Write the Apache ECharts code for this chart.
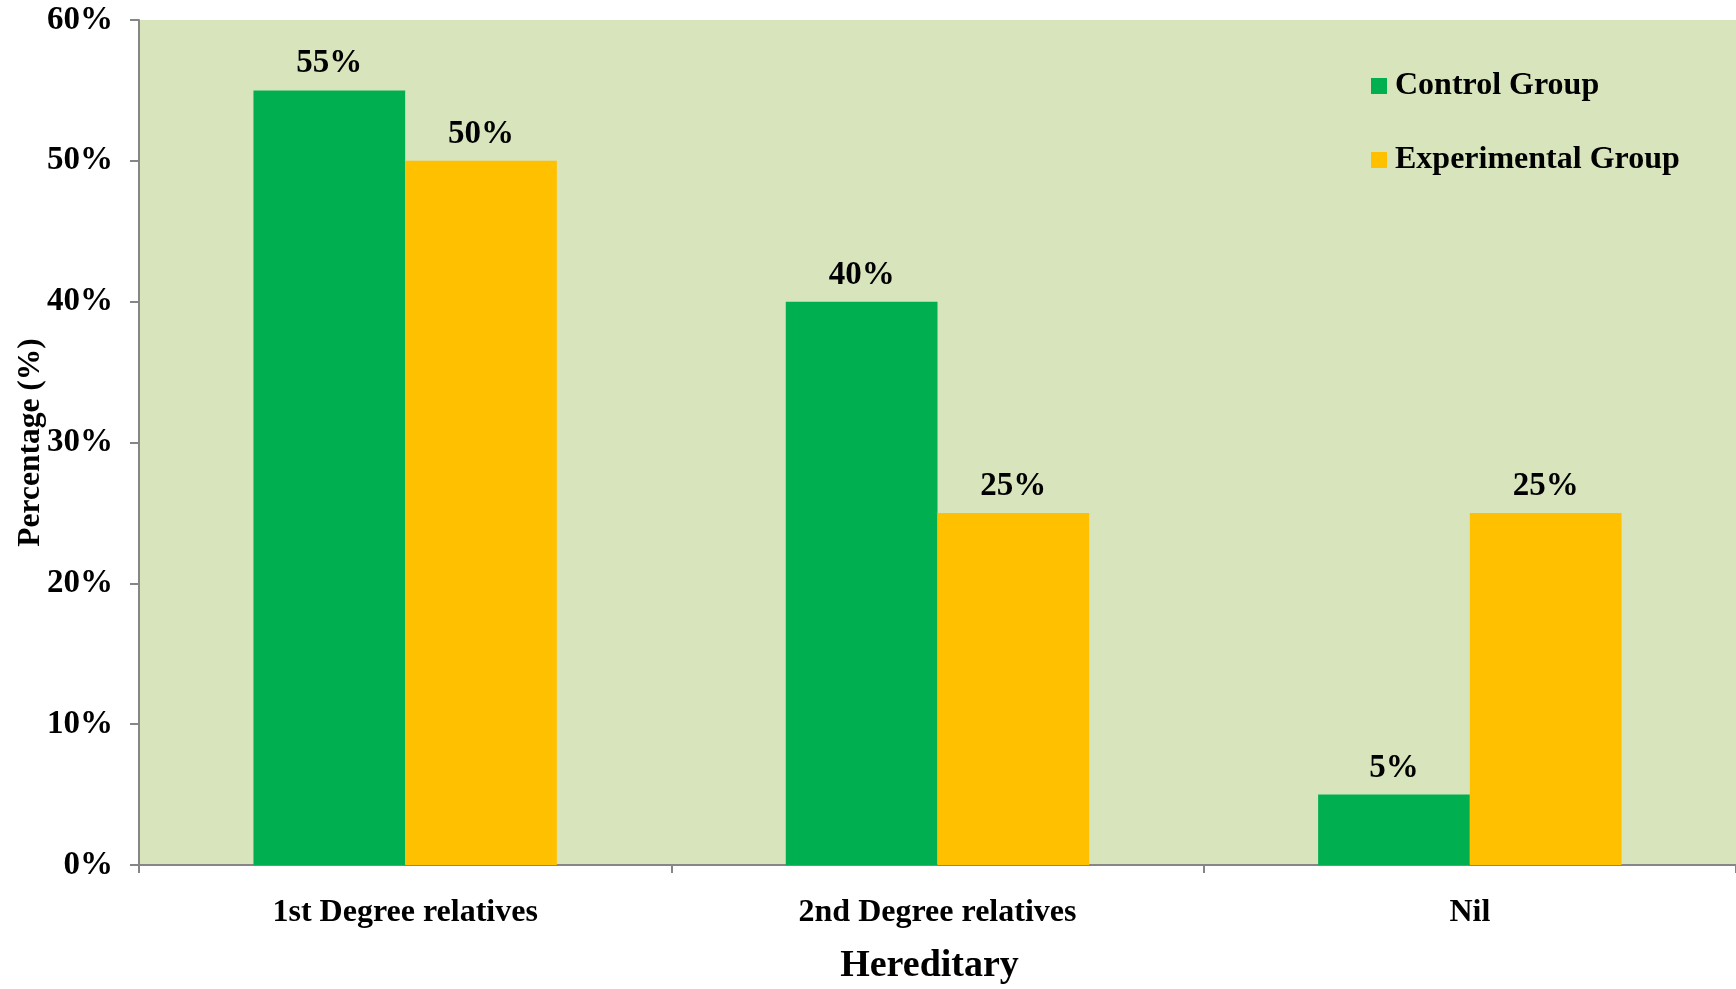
<!DOCTYPE html>
<html>
<head>
<meta charset="utf-8">
<script src="https://cdn.jsdelivr.net/npm/echarts@6/dist/echarts.min.js"></script>
<style>
  html, body { margin: 0; padding: 0; background: #ffffff; }
  #chart { width: 1736px; height: 989px; }
</style>
</head>
<body>
<div id="chart"></div>
<script>
// Hereditary history by group (percent of participants)
const categories = ['1st Degree relatives', '2nd Degree relatives', 'Nil'];
const controlGroup = [55, 40, 5];
const experimentalGroup = [50, 25, 25];
const seriesNames = ['Control Group', 'Experimental Group'];
const yTicks = { min: 0, max: 60, interval: 10 };

const FONT = '"Liberation Serif", "Times New Roman", serif';
const chart = echarts.init(document.getElementById('chart'), null, { renderer: 'canvas' });

const labelStyle = {
  show: true,
  position: 'top',
  distance: 10,
  formatter: p => p.value + '%',
  fontFamily: FONT,
  fontWeight: 'bold',
  fontSize: 33,
  color: '#000000'
};

chart.setOption({
  animation: false,
  textStyle: { fontFamily: FONT },
  grid: {
    left: 139, right: 0, top: 20, bottom: 124,
    outerBoundsMode: 'none',
    containLabel: false,
    show: true, backgroundColor: '#D8E4BC', borderWidth: 0
  },
  legend: {
    orient: 'vertical',
    left: 1371,
    top: 70,
    padding: 0,
    itemWidth: 16,
    itemHeight: 16,
    itemGap: 42,
    icon: 'rect',
    data: seriesNames,
    textStyle: { fontFamily: FONT, fontWeight: 'bold', fontSize: 32, color: '#000000', padding: [0, 0, 0, 3] }
  },
  xAxis: {
    type: 'category',
    data: categories,
    name: 'Hereditary',
    nameLocation: 'middle',
    nameGap: 82,
    nameMoveOverlap: false,
    nameTextStyle: { fontFamily: FONT, fontWeight: 'bold', fontSize: 38, color: '#000000', padding: [0, 16, 0, 0] },
    axisLine: { show: true, lineStyle: { color: '#868686', width: 2 } },
    axisTick: { show: true, length: 8, alignWithLabel: false, lineStyle: { color: '#868686', width: 2 } },
    axisLabel: { margin: 32, fontFamily: FONT, fontWeight: 'bold', fontSize: 32, color: '#000000' }
  },
  yAxis: {
    type: 'value',
    min: yTicks.min,
    max: yTicks.max,
    interval: yTicks.interval,
    name: 'Percentage (%)',
    nameLocation: 'middle',
    nameGap: 92,
    nameMoveOverlap: false,
    nameRotate: 90,
    nameTextStyle: { fontFamily: FONT, fontWeight: 'bold', fontSize: 31.5, color: '#000000' },
    axisLine: { show: true, lineStyle: { color: '#868686', width: 2 } },
    axisTick: { show: true, length: 9, lineStyle: { color: '#868686', width: 2 } },
    splitLine: { show: false },
    axisLabel: { margin: 26, formatter: '{value}%', fontFamily: FONT, fontWeight: 'bold', fontSize: 33, color: '#000000' }
  },
  series: [
    {
      name: seriesNames[0],
      type: 'bar',
      data: controlGroup,
      itemStyle: { color: '#00B050' },
      barGap: '0%',
      barCategoryGap: '43%',
      label: labelStyle
    },
    {
      name: seriesNames[1],
      type: 'bar',
      data: experimentalGroup,
      itemStyle: { color: '#FFC000' },
      label: labelStyle
    }
  ]
});
</script>
</body>
</html>
